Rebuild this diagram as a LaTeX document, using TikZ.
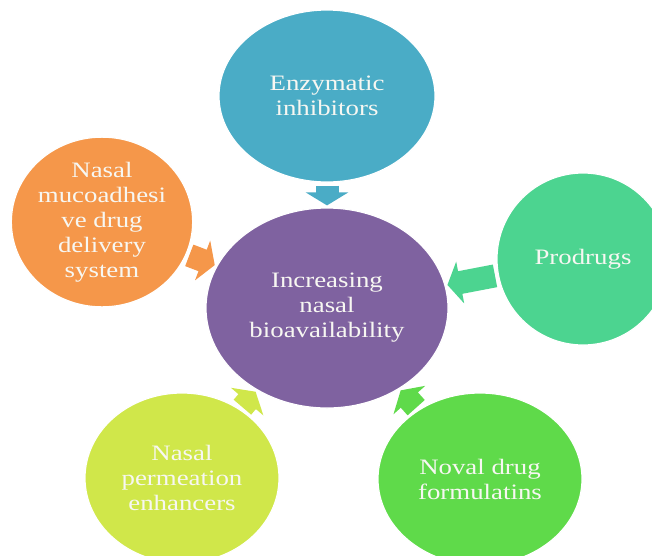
\documentclass[tikz,border=0pt]{standalone}
\usepackage{fontspec}
\setmainfont{Liberation Serif}[FakeStretch=1.22]
\usetikzlibrary{arrows.meta,shapes.geometric}
\definecolor{cteal}{HTML}{4AACC6}
\definecolor{corange}{HTML}{F5974A}
\definecolor{cpurple}{HTML}{7F62A0}
\definecolor{cmint}{HTML}{4CD490}
\definecolor{clime}{HTML}{D0E74A}
\definecolor{cgreen}{HTML}{5FDA4A}
\definecolor{paper}{HTML}{F7F7F2}
\tikzset{
  bubble/.style={ellipse, fill=#1, draw=white, line width=1.2pt, inner sep=0pt, align=center, text=paper, font=\fontsize{22}{25}\selectfont},
  push/.style={-{Triangle[length=13pt,width=42pt]}, line width=23pt, draw=#1, shorten <=3pt, shorten >=2pt},
}

\begin{document}
\begin{tikzpicture}[x=1pt,y=-1pt]
  \clip (0,0) rectangle (652,555);
  \fill[white] (0,0) rectangle (652,555);
  % centre and the five causes around it
  \node[bubble=cpurple, minimum width=242pt, minimum height=200pt] (hub) at (327,308) {Increasing\\nasal\\bioavailability};
  \node[bubble=cteal, minimum width=216pt, minimum height=172pt] (enz) at (327,96) {Enzymatic\\inhibitors};
  \node[bubble=corange, minimum width=180pt, minimum height=165pt] (muco) at (102,222) {Nasal\\mucoadhesi\\ve drug\\delivery\\system};
  \node[bubble=cmint, minimum width=172pt, minimum height=172pt] (pro) at (583,259) {Prodrugs};
  \node[bubble=clime, minimum width=194pt, minimum height=170pt] (perm) at (182,478) {Nasal\\permeation\\enhancers};
  \node[bubble=cgreen, minimum width=204pt, minimum height=172pt] (form) at (480,479) {Noval drug\\formulatins};
  % block arrows pointing in
  \draw[push=cteal] (enz) -- (hub);
  \draw[push=corange] (muco) -- (hub);
  \draw[push=cmint] (pro) -- (hub);
  \draw[push=clime] (perm) -- (hub);
  \draw[push=cgreen] (form) -- (hub);
\end{tikzpicture}
\end{document}
